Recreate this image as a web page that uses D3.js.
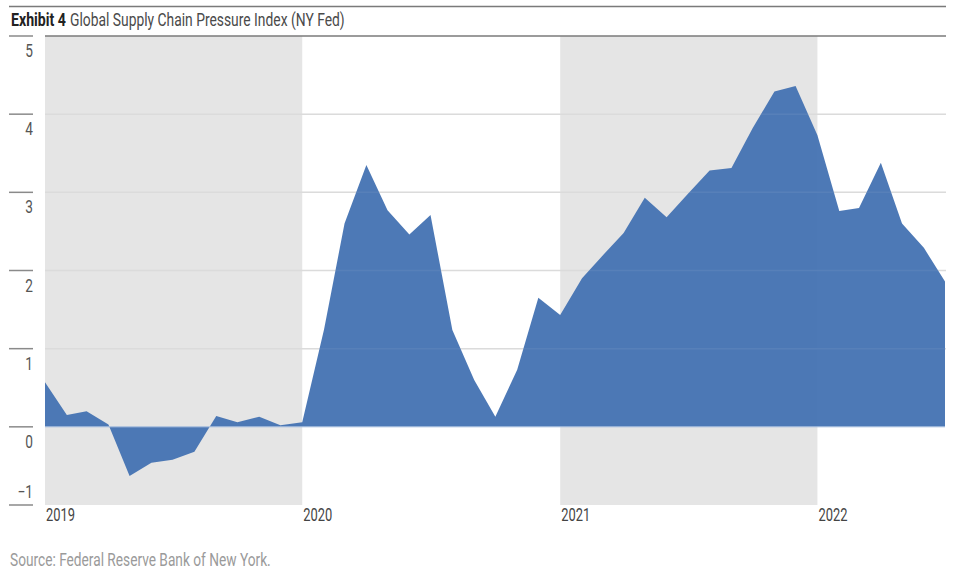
<!DOCTYPE html>
<html>
<head>
<meta charset="utf-8">
<script src="https://cdn.jsdelivr.net/npm/d3@7"></script>
<style>
  html, body { margin: 0; padding: 0; background: #fff; }
  svg { display: block; font-family: "Roboto", "Liberation Sans", sans-serif; }
</style>
</head>
<body>
<svg id="chart" width="955" height="575"></svg>
<script>
// ---- Data ----
const startMonth = "2019-01";
const values = [
  // 2019
  0.57, 0.15, 0.20, 0.03, -0.63, -0.46, -0.42, -0.32, 0.14, 0.06, 0.13, 0.02,
  // 2020
  0.06, 1.25, 2.60, 3.35, 2.77, 2.46, 2.71, 1.24, 0.60, 0.13, 0.73, 1.65,
  // 2021
  1.43, 1.90, 2.18, 2.48, 2.93, 2.68, 2.98, 3.28, 3.31, 3.82, 4.29, 4.36,
  // 2022
  3.73, 2.76, 2.80, 3.38, 2.60, 2.29, 1.86
];
const yTicks = [-1, 0, 1, 2, 3, 4, 5];
const yearTicks = ["2019", "2020", "2021", "2022"];
const shadedYears = ["2019", "2021"];
const titleBold = "Exhibit 4";
const titleText = "Global Supply Chain Pressure Index (NY Fed)";
const sourceText = "Source: Federal Reserve Bank of New York.";

// ---- Build ----
(function () {
const parseMonth = d3.timeParse("%Y-%m");
const parseYear = d3.timeParse("%Y");
const t0 = parseMonth(startMonth);
const data = values.map((v, i) => ({ date: d3.timeMonth.offset(t0, i), value: v }));

const svg = d3.select("#chart");
const pl = 45, pr = 945, pt = 36, pb = 505;
const CONDENSE = 0.76;

const x = d3.scaleTime()
  .domain([data[0].date, data[data.length - 1].date])
  .range([pl, pr]);
const y = d3.scaleLinear().domain([-1, 5]).range([pb, pt]);

// helper: condensed text (horizontal squeeze), optional target width
function ctext(parent, str, px, py, opts) {
  const g = parent.append("g");
  const t = g.append("text").attr("x", 0).attr("y", 0)
    .attr("font-size", opts.size)
    .attr("font-weight", opts.weight || "normal")
    .attr("fill", opts.fill)
    .attr("text-anchor", opts.anchor || "start")
    .text(str);
  let s = CONDENSE;
  if (opts.width) {
    const w = t.node().getComputedTextLength();
    if (w > 0) s = opts.width / w;
  }
  g.attr("transform", `translate(${px},${py}) scale(${s},1)`);
  return g;
}

// title rule + title
svg.append("line").attr("x1", 9).attr("x2", 946).attr("y1", 6.5).attr("y2", 6.5)
  .attr("stroke", "#7a7a7a").attr("stroke-width", 1.5);
ctext(svg, titleBold, 11, 26, { size: 17.5, weight: "bold", fill: "#222", width: 55 });
ctext(svg, titleText, 70, 26, { size: 17.5, fill: "#4a4a4a", width: 275 });

// shaded bands
svg.append("g").selectAll("rect").data(shadedYears).join("rect")
  .attr("x", d => x(parseYear(d)))
  .attr("width", d => x(d3.timeYear.offset(parseYear(d), 1)) - x(parseYear(d)))
  .attr("y", pt).attr("height", pb - pt)
  .attr("fill", "#e5e5e5");

// gridlines (under)
svg.append("g").selectAll("line").data(yTicks.filter(d => d > 0 && d < 5)).join("line")
  .attr("x1", pl).attr("x2", 946)
  .attr("y1", d => y(d)).attr("y2", d => y(d))
  .attr("stroke", "#d9d9d9").attr("stroke-width", 1.5);

// area
const area = d3.area()
  .x(d => x(d.date))
  .y0(y(0))
  .y1(d => y(d.value));
svg.append("path").datum(data)
  .attr("d", area)
  .attr("fill", "#4372b2")
  .attr("fill-opacity", 0.95);

// faint gridlines over the area
svg.append("g").selectAll("line").data(yTicks.filter(d => d > 0 && d < 5)).join("line")
  .attr("x1", pl).attr("x2", 946)
  .attr("y1", d => y(d)).attr("y2", d => y(d))
  .attr("stroke", "#ffffff").attr("stroke-opacity", 0.07).attr("stroke-width", 1.5);

// zero line
svg.append("line").attr("x1", pl).attr("x2", pr)
  .attr("y1", y(0)).attr("y2", y(0))
  .attr("stroke", "#a9c0e0").attr("stroke-width", 1);

// top line at 5
svg.append("line").attr("x1", pl).attr("x2", 946)
  .attr("y1", y(5)).attr("y2", y(5))
  .attr("stroke", "#7a7a7a").attr("stroke-width", 1.5);

// y axis ticks & labels
const yAxis = svg.append("g");
yAxis.selectAll("line").data(yTicks).join("line")
  .attr("x1", 9).attr("x2", 33)
  .attr("y1", d => y(d)).attr("y2", d => y(d))
  .attr("stroke", "#8a8a8a").attr("stroke-width", 1.5);
yTicks.forEach(d => {
  ctext(yAxis, d < 0 ? "\u2212" + Math.abs(d) : String(d), 33,
    d === -1 ? y(d) - 7 : y(d) + 21,
    { size: 18, fill: "#555", anchor: "end" });
});

// x labels
const xAxis = svg.append("g");
yearTicks.forEach(d => {
  ctext(xAxis, d, x(parseYear(d)) + 1, 521, { size: 17.5, fill: "#444", width: 29 });
});

// source
ctext(svg, sourceText, 10, 566, { size: 17.5, fill: "#9a9a9a", width: 261 });
})();
</script>
</body>
</html>
